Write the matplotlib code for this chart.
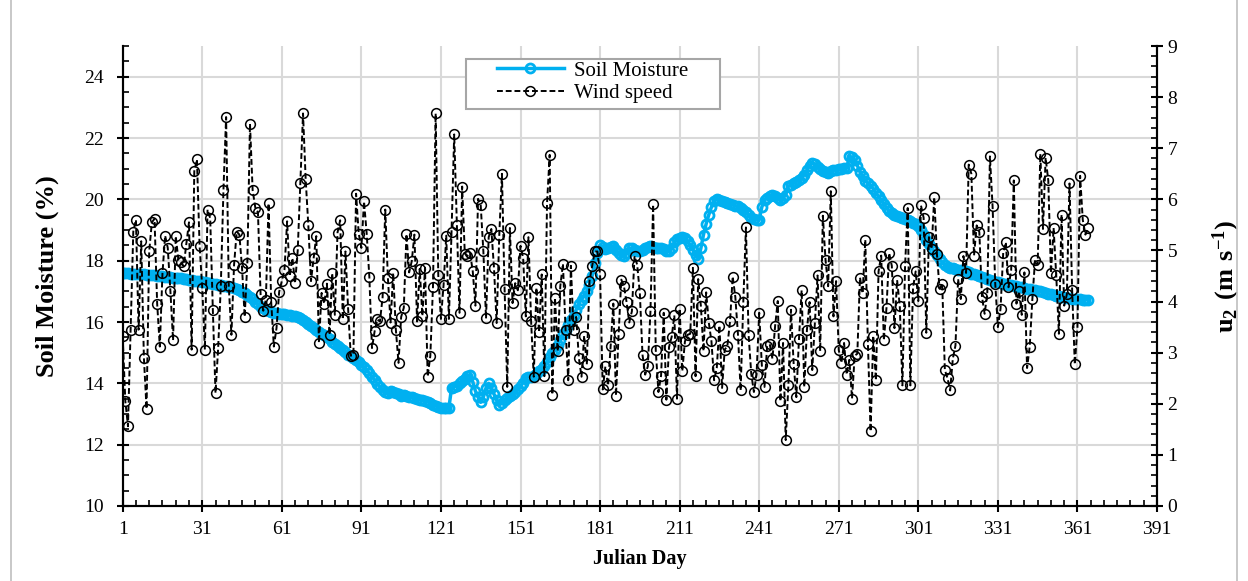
import numpy as np
import matplotlib
matplotlib.use("Agg")
import matplotlib.pyplot as plt
from matplotlib.ticker import FixedLocator, MultipleLocator
from matplotlib.patches import Rectangle

plt.rcParams["font.family"] = "Liberation Serif"
plt.rcParams["mathtext.fontset"] = "custom"
plt.rcParams["mathtext.rm"] = "Liberation Serif"
plt.rcParams["mathtext.bf"] = "Liberation Serif:bold"

# daily soil moisture (%), Julian day 1..365
soil_moisture = [
    17.60, 17.59, 17.59, 17.58, 17.57, 17.57, 17.56, 17.55, 17.55, 17.54,
    17.53, 17.52, 17.52, 17.51, 17.50, 17.49, 17.48, 17.47, 17.46, 17.45,
    17.44, 17.43, 17.42, 17.41, 17.39, 17.38, 17.37, 17.35, 17.34, 17.33,
    17.31, 17.30, 17.28, 17.27, 17.25, 17.24, 17.22, 17.21, 17.19, 17.17,
    17.15, 17.13, 17.10, 17.07, 17.03, 16.99, 16.94, 16.89, 16.82, 16.74,
    16.66, 16.58, 16.50, 16.45, 16.40, 16.36, 16.33, 16.30, 16.28, 16.26,
    16.26, 16.25, 16.24, 16.23, 16.21, 16.19, 16.17, 16.12, 16.06, 16.00,
    15.93, 15.86, 15.80, 15.74, 15.68, 15.62, 15.56, 15.50, 15.43, 15.36,
    15.29, 15.22, 15.15, 15.08, 15.01, 14.94, 14.88, 14.82, 14.76, 14.69,
    14.61, 14.52, 14.43, 14.33, 14.22, 14.11, 13.99, 13.88, 13.78, 13.72,
    13.70, 13.75, 13.73, 13.68, 13.64, 13.60, 13.62, 13.58, 13.55, 13.56,
    13.52, 13.49, 13.47, 13.46, 13.44, 13.40, 13.35, 13.30, 13.26, 13.22,
    13.20, 13.19, 13.18, 13.20, 13.85, 13.88, 13.92, 14.00, 14.06, 14.15,
    14.25, 14.28, 14.05, 13.75, 13.55, 13.38, 13.55, 13.85, 14.00, 13.85,
    13.65, 13.45, 13.30, 13.35, 13.45, 13.52, 13.58, 13.65, 13.72, 13.80,
    13.90, 14.02, 14.18, 14.22, 14.20, 14.23, 14.30, 14.40, 14.48, 14.56,
    14.70, 14.85, 15.00, 15.10, 15.25, 15.40, 15.60, 15.75, 15.90, 16.05,
    16.19, 16.40, 16.60, 16.73, 16.85, 17.00, 17.20, 17.50, 17.93, 18.25,
    18.50, 18.45, 18.39, 18.42, 18.45, 18.47, 18.35, 18.25, 18.18, 18.15,
    18.25, 18.40, 18.42, 18.35, 18.30, 18.30, 18.35, 18.40, 18.45, 18.47,
    18.45, 18.42, 18.42, 18.40, 18.38, 18.33, 18.30, 18.40, 18.60, 18.72,
    18.74, 18.76, 18.74, 18.65, 18.50, 18.36, 18.20, 18.06, 18.40, 18.85,
    19.20, 19.50, 19.75, 19.95, 20.00, 19.97, 19.93, 19.90, 19.88, 19.85,
    19.82, 19.79, 19.77, 19.72, 19.65, 19.60, 19.50, 19.40, 19.36, 19.34,
    19.34, 19.75, 19.99, 20.05, 20.10, 20.15, 20.12, 20.05, 19.99, 20.05,
    20.15, 20.42, 20.48, 20.52, 20.58, 20.62, 20.70, 20.80, 20.95, 21.10,
    21.18, 21.15, 21.07, 21.00, 20.92, 20.88, 20.86, 20.92, 20.96, 20.97,
    20.98, 21.00, 21.01, 21.02, 21.40, 21.38, 21.29, 21.10, 20.90, 20.75,
    20.60, 20.53, 20.45, 20.35, 20.20, 20.10, 19.98, 19.85, 19.72, 19.62,
    19.55, 19.50, 19.45, 19.42, 19.40, 19.37, 19.34, 19.30, 19.24, 19.18,
    19.12, 19.00, 18.85, 18.69, 18.55, 18.42, 18.30, 18.20, 18.05, 17.95,
    17.85, 17.80, 17.76, 17.75, 17.73, 17.71, 17.70, 17.68, 17.65, 17.62,
    17.58, 17.55, 17.52, 17.50, 17.46, 17.42, 17.39, 17.36, 17.33, 17.31,
    17.29, 17.27, 17.25, 17.24, 17.22, 17.21, 17.19, 17.17, 17.15, 17.13,
    17.11, 17.09, 17.07, 17.05, 17.03, 17.01, 17.00, 16.98, 16.95, 16.92,
    16.90, 16.87, 16.85, 16.84, 16.82, 16.80, 16.79, 16.77, 16.76, 16.75,
    16.74, 16.74, 16.73, 16.73, 16.72,
]

# daily wind speed at 2 m (m/s), Julian day 1..365
wind_speed = [
    3.32, 2.05, 1.56, 3.45, 5.37, 5.60, 3.45, 5.18, 2.90, 1.90,
    4.98, 5.55, 5.62, 3.96, 3.12, 4.55, 5.29, 5.05, 4.20, 3.24,
    5.28, 4.82, 4.77, 4.69, 5.13, 5.55, 3.06, 6.55, 6.78, 5.09,
    4.27, 3.06, 5.80, 5.63, 3.83, 2.21, 3.09, 4.31, 6.19, 7.61,
    4.30, 3.35, 4.72, 5.37, 5.31, 4.66, 3.70, 4.76, 7.48, 6.18,
    5.84, 5.75, 4.14, 3.82, 4.04, 5.92, 3.99, 3.12, 3.48, 4.19,
    4.40, 4.62, 5.57, 4.50,
    4.85, 4.36, 5.00, 6.32, 7.68, 6.39, 5.49, 4.40, 4.85, 5.28,
    3.19, 4.17, 3.96, 4.35, 3.35, 4.55, 3.74, 5.35, 5.59, 3.65,
    4.98, 3.86, 2.94, 2.96, 6.11, 5.33, 5.05, 5.96, 5.33, 4.49,
    3.09, 3.42, 3.65, 3.61, 4.08, 5.80, 4.46, 3.59, 4.56, 3.45,
    2.80, 3.70, 3.88, 5.32, 4.57, 4.79, 5.31, 3.61, 4.64, 3.72,
    4.66, 2.53, 2.94, 4.29, 7.68, 4.51, 3.66, 4.33, 5.29, 3.66,
    5.37,
    7.27, 5.50, 3.78, 6.25, 4.94, 4.89, 4.95, 4.59, 3.92, 6.01,
    5.88, 4.98, 3.67, 5.26, 5.42, 4.66, 3.58, 5.31, 6.50, 4.25,
    2.33, 5.44, 3.97, 4.36, 4.22, 5.09, 4.85, 3.71, 5.26, 3.61,
    2.53, 4.27, 3.40, 4.53, 2.54, 5.92, 6.87, 2.18, 4.07, 3.03,
    4.30, 4.74, 3.44, 2.46, 4.70, 3.45, 3.70, 2.90, 2.53, 3.33,
    2.77, 4.40, 4.69, 4.98, 4.98, 4.53, 2.28, 2.73, 2.36, 3.14,
    3.96, 2.16,
    3.37, 4.43, 4.30, 3.99, 3.59, 3.81, 4.89, 4.72, 4.16, 2.96,
    2.57, 2.73, 3.81, 5.90, 3.05, 2.23, 2.55, 3.78, 2.08, 3.11,
    3.31, 3.73, 2.10, 3.86, 2.64, 3.22, 3.35, 3.37, 4.66, 2.54,
    4.44, 3.92, 3.03, 4.18, 3.59, 3.22, 2.46, 2.70, 3.53, 2.31,
    3.06, 3.13, 3.61, 4.49, 4.09, 3.35, 2.26, 3.99, 5.45, 3.35,
    2.59, 2.23, 2.57, 3.78, 2.75, 2.33, 3.13, 3.16, 2.88, 3.52,
    4.01, 2.05,
    3.19,
    1.29, 2.36, 3.84, 2.77, 2.13, 3.27, 4.22, 2.33, 3.45, 3.99,
    2.66, 3.59, 4.51, 3.03, 5.68, 4.82, 4.30, 6.16, 3.71, 4.40,
    3.05, 2.80, 3.19, 2.57, 2.86, 2.10, 2.94, 2.98, 4.47, 4.16,
    5.21, 3.16, 1.46, 3.33, 2.46, 4.59, 4.90, 3.24, 3.88, 4.95,
    4.70, 3.48, 4.42, 3.92, 2.36, 4.70, 5.83, 2.36, 4.27, 4.59,
    4.01, 5.88, 5.64, 3.39, 5.26, 5.03, 6.04, 4.94, 4.25, 4.35,
    2.66,
    2.50,
    2.26, 2.88, 3.14, 4.44, 4.05, 4.89, 4.56, 6.68, 6.50, 4.90,
    5.49, 5.36, 4.09, 3.76, 4.16, 6.84, 5.86, 4.35, 3.50, 3.86,
    4.95, 5.16, 4.28, 4.61, 6.37, 3.96, 4.20, 3.74, 4.57, 2.70,
    3.12, 4.05, 4.81, 4.72, 6.89, 5.42, 6.81, 6.37, 4.56, 5.44,
    4.51, 3.37, 5.70, 3.92, 4.14, 6.31, 4.22, 2.77, 3.50, 6.46,
    5.60, 5.31, 5.44,
]

days = np.arange(1, len(soil_moisture) + 1)
wind_days = np.arange(1, len(wind_speed) + 1)

x_ticks = np.arange(1, 392, 30)
left_ticks = np.arange(10, 25, 2)
right_ticks = np.arange(0, 10, 1)

sm_color = "#00B0F0"
grid_color = "#d9d9d9"

W, H = 1248, 581
fig = plt.figure(figsize=(W / 100, H / 100), dpi=100)
ax1 = fig.add_axes([0.0983, 0.1291, 0.8288, 0.7917])
ax2 = ax1.twinx()

# grid lines under everything
ax1.set_axisbelow(True)
ax1.grid(True, which="major", color=grid_color, linewidth=1.5)

ln1, = ax1.plot(days, soil_moisture, color=sm_color, linewidth=2.5,
                marker="o", markersize=6.5, markerfacecolor="none",
                markeredgecolor=sm_color, markeredgewidth=2,
                label="Soil Moisture")
ln2, = ax2.plot(wind_days, wind_speed, color="black", linewidth=1.4,
                linestyle=(0, (3, 1.5)), marker="o", markersize=7,
                markerfacecolor="none", markeredgecolor="black",
                markeredgewidth=1.1, label="Wind speed")

ax1.set_xlim(1, 391)
ax1.set_ylim(10, 25)
ax2.set_ylim(0, 9)

ax1.xaxis.set_major_locator(FixedLocator(x_ticks))
ax1.xaxis.set_minor_locator(FixedLocator(np.arange(1, 392, 5)))
ax1.yaxis.set_major_locator(FixedLocator(left_ticks))
ax1.yaxis.set_minor_locator(MultipleLocator(0.5))
ax2.yaxis.set_major_locator(FixedLocator(right_ticks))
ax2.yaxis.set_minor_locator(MultipleLocator(0.2))

for ax in (ax1, ax2):
    ax.spines["top"].set_visible(False)
    for side in ("left", "right", "bottom"):
        ax.spines[side].set_linewidth(1.5)
        ax.spines[side].set_color("black")
    ax.tick_params(which="major", direction="inout", length=9, width=1.5,
                   labelsize=14)
    ax.tick_params(which="minor", direction="in", length=4.5, width=1.2)

ax1.tick_params(axis="y", which="major", pad=9)
ax1.tick_params(axis="x", which="major", pad=6)
ax2.tick_params(axis="y", which="major", pad=3)

ax1.set_xlabel("Julian Day", fontsize=14.5, fontweight="bold", labelpad=8)
ax1.set_ylabel("Soil Moisture (%)", fontsize=19, fontweight="bold", labelpad=18)
ax2.set_ylabel(r"$\mathbf{u_2\ (m\ s^{-1})}$", fontsize=19, labelpad=24)

# legend box with wide side margins, entries placed inside it
legend_box = Rectangle((466 / W, 1 - 109 / H), 254 / W, 50 / H,
                       transform=fig.transFigure, facecolor="white",
                       edgecolor="#a6a6a6", linewidth=1.5, zorder=9,
                       clip_on=False)
ax2.add_patch(legend_box)
leg = ax2.legend(handles=[ln1, ln2], loc="upper left",
                 bbox_to_anchor=(497 / W, 1 - 61 / H),
                 bbox_transform=fig.transFigure, fontsize=15, numpoints=1,
                 handlelength=3.2, frameon=False, borderaxespad=0,
                 borderpad=0, labelspacing=0.15, handletextpad=0.5)
leg.set_zorder(10)

# outer chart frame
fig.patches.append(Rectangle((11 / W, -0.05), 1226 / W, 1.1,
                             transform=fig.transFigure, fill=False,
                             edgecolor="#bfbfbf", linewidth=1.2))

fig.savefig("out.png", dpi=100)
